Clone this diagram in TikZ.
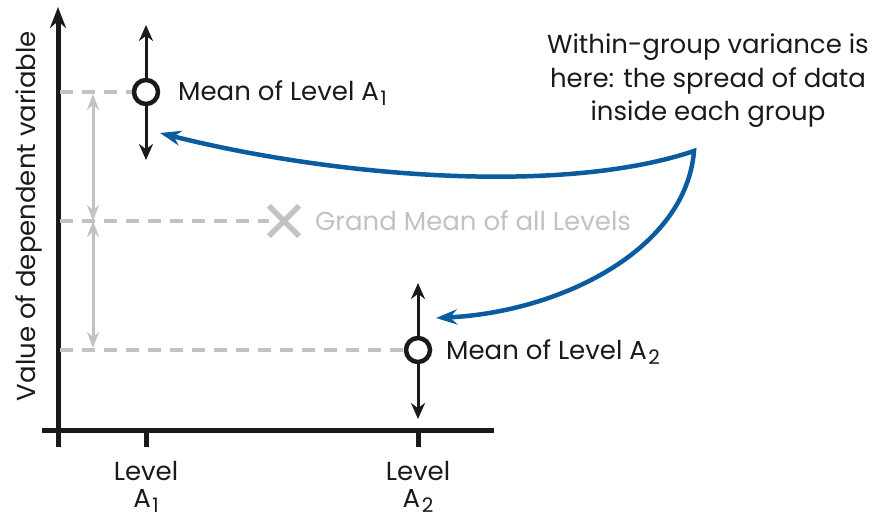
\documentclass[tikz,border=0pt]{standalone}
\usepackage{fontspec}
\setmainfont{Poppins}
\usetikzlibrary{arrows.meta}
\definecolor{ink}{HTML}{1A1A1A}
\definecolor{lightgray}{HTML}{C2C2C2}
\definecolor{blueline}{HTML}{0B5C9E}
\newcommand{\subnum}[1]{\kern1.5pt\raisebox{-5pt}[0pt][0pt]{\fontsize{20}{20}\selectfont #1}}
\tikzset{
  axisline/.style={line width=5pt, ink},
  meanarrow/.style={line width=3pt, ink, -{Stealth[length=16pt,width=14pt]}},
  meancircle/.style={circle, draw=ink, fill=white, line width=4.5pt, minimum size=24pt, inner sep=0pt},
  guide/.style={lightgray, line width=4pt, dash pattern=on 13pt off 9pt},
  grayarrow/.style={lightgray, line width=3pt, {Stealth[length=16pt,width=12pt]}-{Stealth[length=16pt,width=12pt]}},
  lbl/.style={font=\fontsize{26}{30}\selectfont, text=ink, inner sep=0pt},
  graylbl/.style={font=\fontsize{26}{30}\selectfont, text=lightgray, inner sep=0pt},
  bluecurve/.style={blueline, line width=4.5pt, line join=miter, {Stealth[length=21pt,width=15pt]}-{Stealth[length=21pt,width=15pt]}}
}
\begin{document}
\begin{tikzpicture}[x=1pt,y=-1pt]
\useasboundingbox (0,0) rectangle (877,521);
% axes
\coordinate (yb) at (58,447);
\coordinate (yt) at (58,7);
\coordinate (xl) at (42,430);
\coordinate (xr) at (494,430);
\draw[axisline] (xl) -- (xr);
\draw[axisline, -{Stealth[length=21pt,width=16pt]}] (yb) -- (yt);
% ticks
\coordinate (t1a) at (146,430); \coordinate (t1b) at (146,447);
\coordinate (t2a) at (418,430); \coordinate (t2b) at (418,447);
\draw[axisline] (t1a) -- (t1b);
\draw[axisline] (t2a) -- (t2b);
% guide lines
\coordinate (g1) at (60,92);
\coordinate (g2) at (60,221);
\coordinate (g3) at (60,350);
\node[meancircle] (m1) at (146,92) {};
\node[meancircle] (m2) at (418,350) {};
\node[inner sep=0pt, minimum size=30pt] (gm) at (284,221) {};
\draw[guide] (g1) -- (m1.west);
\draw[guide] (g2) -- (gm.west);
\draw[guide] (g3) -- (m2.west);
% grand mean cross
\draw[lightgray, line width=5.5pt] (gm.north west) -- (gm.south east) (gm.north east) -- (gm.south west);
% gray double arrows
\coordinate (d1) at (93,94);
\coordinate (d2) at (93,221);
\coordinate (d3) at (93,348);
\draw[grayarrow] (d1) -- (d2);
\draw[grayarrow] (d2) -- (d3);
% mean arrows
\coordinate (a1u) at (146,25);
\coordinate (a1d) at (146,160);
\coordinate (a2u) at (418,283);
\coordinate (a2d) at (418,419);
\draw[meanarrow] (m1.north) -- (a1u);
\draw[meanarrow] (m1.south) -- (a1d);
\draw[meanarrow] (m2.north) -- (a2u);
\draw[meanarrow] (m2.south) -- (a2d);
% labels
\node[lbl, anchor=base west] (l1) at (178,101) {Mean of Level A\subnum{1}};
\node[lbl, anchor=base west] (l2) at (446,359) {Mean of Level A\subnum{2}};
\node[graylbl, anchor=base west] (lg) at (315,230) {Grand Mean of all Levels};
\node[lbl, rotate=90, anchor=base] (yl) at (35,216) {Value of dependent variable};
\node[lbl, anchor=base] (x1a) at (146,480) {Level};
\node[lbl, anchor=base] (x1b) at (146,507) {A\subnum{1}};
\node[lbl, anchor=base] (x2a) at (418,480) {Level};
\node[lbl, anchor=base] (x2b) at (418,507) {A\subnum{2}};
\node[lbl, align=center, font=\fontsize{26}{33.5}\selectfont] (note) at (708,81) {Within-group variance is\\here: the spread of data\\inside each group};
% blue curve
\coordinate (corner) at (694,151);
\coordinate (tip1) at (160,133);
\coordinate (tip2) at (436,318);
\draw[bluecurve] (tip1) .. controls (330,176) and (560,196) .. (corner) .. controls (686,250) and (560,312) .. (tip2);
\end{tikzpicture}
\end{document}
